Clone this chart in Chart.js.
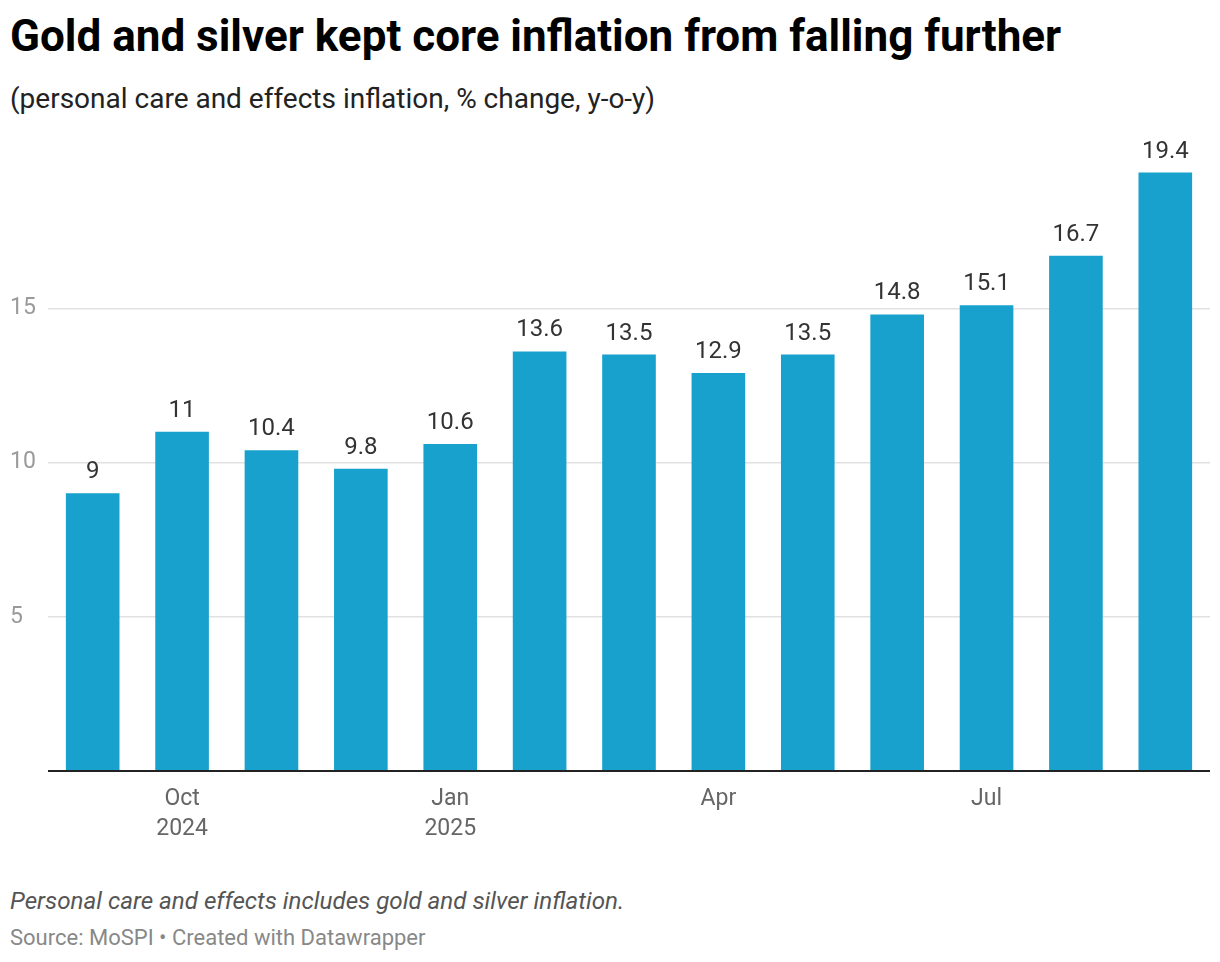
<!DOCTYPE html>
<html lang="en">
  <head>
    <meta charset="UTF-8" />
    <script src="https://cdn.jsdelivr.net/npm/chart.js"></script>
    <title>Gold and silver kept core inflation from falling further</title>
    <style>
      body { margin: 0; width: 1220px; height: 962px; background: #fff; font-family: Roboto, sans-serif; position: relative; }
      #title { position: absolute; left: 10px; top: 10px; font-size: 44px; line-height: 52px; font-weight: 700; color: #000; }
      #subtitle { position: absolute; left: 10px; top: 82px; font-size: 28px; line-height: 33px; color: #222; }
      #wrap { position: absolute; left: 0; top: 130px; width: 1220px; height: 720px; }
      #note { position: absolute; left: 10px; top: 887px; font-size: 24.2px; line-height: 28px; font-style: italic; color: #555; }
      #source { position: absolute; left: 10px; top: 925px; font-size: 22px; line-height: 26px; color: #888; }
    </style>
  </head>
  <body>
    <div id="title">Gold and silver kept core inflation from falling further</div>
    <div id="subtitle">(personal care and effects inflation, % change, y-o-y)</div>
    <div id="wrap"><canvas id="chart"></canvas></div>
    <div id="note">Personal care and effects includes gold and silver inflation.</div>
    <div id="source">Source: MoSPI • Created with Datawrapper</div>
    <script>
      const months = ['Sep 2024', 'Oct 2024', 'Nov 2024', 'Dec 2024', 'Jan 2025', 'Feb 2025', 'Mar 2025',
                      'Apr 2025', 'May 2025', 'Jun 2025', 'Jul 2025', 'Aug 2025', 'Sep 2025'];
      const inflation = [9, 11, 10.4, 9.8, 10.6, 13.6, 13.5, 12.9, 13.5, 14.8, 15.1, 16.7, 19.4];
      const tickLabels = ['', ['Oct', '2024'], '', '', ['Jan', '2025'], '', '', 'Apr', '', '', 'Jul', '', ''];
      const yTicks = [5, 10, 15];

      const valueLabels = {
        id: 'valueLabels',
        afterDatasetsDraw(chart) {
          const ctx = chart.ctx;
          const meta = chart.getDatasetMeta(0);
          ctx.save();
          ctx.font = '24px Roboto';
          ctx.fillStyle = '#333';
          ctx.textAlign = 'center';
          ctx.textBaseline = 'bottom';
          meta.data.forEach((bar, i) => {
            ctx.fillText(String(inflation[i]), bar.x, bar.y - 9);
          });
          ctx.restore();
        }
      };

      new Chart(document.getElementById('chart'), {
        type: 'bar',
        data: {
          labels: months,
          datasets: [{
            data: inflation,
            backgroundColor: '#18a1cd',
            barPercentage: 0.6,
            categoryPercentage: 1
          }]
        },
        options: {
          responsive: true,
          maintainAspectRatio: false,
          animation: false,
          layout: { padding: { top: 24, right: 10, left: 10, bottom: 0 } },
          plugins: {
            legend: { display: false },
            tooltip: { enabled: false }
          },
          scales: {
            x: {
              grid: { display: false, drawTicks: false },
              border: { display: false },
              ticks: {
                autoSkip: false,
                maxRotation: 0,
                padding: 13,
                color: '#666',
                font: { family: 'Roboto', size: 23, lineHeight: 1.3 },
                callback: (v, i) => tickLabels[i]
              },
              afterFit: (scale) => { scale.height = 79; }
            },
            y: {
              min: 0,
              max: 20,
              afterBuildTicks: (scale) => {
                scale.ticks = [0].concat(yTicks).concat([20]).map(v => ({ value: v }));
              },
              grid: {
                drawTicks: false,
                color: (c) => c.tick.value === 0 ? '#222' : (c.tick.value === 20 ? 'rgba(0,0,0,0)' : '#e1e1e1'),
                lineWidth: (c) => c.tick.value === 0 ? 2 : 1.5
              },
              border: { display: false },
              ticks: {
                crossAlign: 'far',
                padding: 8,
                color: '#9a9a9a',
                font: { family: 'Roboto', size: 23 },
                callback: (v) => yTicks.includes(v) ? String(v) : ''
              },
              afterFit: (scale) => { scale.width = 38; }
            }
          }
        },
        plugins: [valueLabels]
      });
    </script>
  </body>
</html>
